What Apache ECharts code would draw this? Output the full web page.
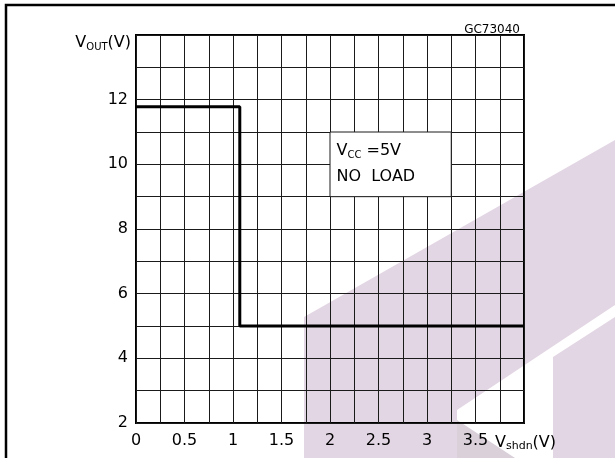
<!DOCTYPE html>
<html>
<head>
<meta charset="utf-8">
<script src="https://cdn.jsdelivr.net/npm/echarts@6/dist/echarts.min.js"></script>
<style>html,body{margin:0;padding:0;background:#fff;}#chart{width:615px;height:458px;}</style>
</head>
<body>
<div id="chart"></div>
<script>
// Data
var stepX = [0, 1.07, 4];          // V_shdn (V)
var stepY = [11.78, 5, 5];         // V_OUT (V)
var xTickLabels = ['0', '0.5', '1', '1.5', '2', '2.5', '3', '3.5'];
var yTickLabels = ['2', '4', '6', '8', '10', '12'];
var noteBoxX = [2, 3.25];
var noteBoxY = [9, 11];
var figCode = 'GC73040';

var FONT = 'DejaVu Sans';
var chart = echarts.init(document.getElementById('chart'), null, {renderer: 'canvas'});

var lineData = stepX.map(function (x, i) { return [x, stepY[i]]; });

function fmtX(v) {
  var s = String(Math.round(v * 100) / 100);
  return xTickLabels.indexOf(s) >= 0 ? s : '';
}
function fmtY(v) {
  var s = String(Math.round(v * 100) / 100);
  return yTickLabels.indexOf(s) >= 0 ? s : '';
}

var option = {
  backgroundColor: '#fff',
  animation: false,
  title: {
    text: figCode,
    right: 90,
    top: 19,
    textStyle: {fontFamily: FONT, fontSize: 12, fontWeight: 'normal', color: '#000'}
  },
  graphic: [
    {type: 'polygon', z: -10, silent: true,
     shape: {points: [[304,317],[615,140],[615,305],[457,410],[457,458],[304,458]]},
     style: {fill: '#e3d6e4'}},
    {type: 'polygon', z: -10, silent: true,
     shape: {points: [[457,420],[515,458],[457,458]]},
     style: {fill: '#d9d0da'}},
    {type: 'polygon', z: -10, silent: true,
     shape: {points: [[553,357],[615,317],[615,458],[553,458]]},
     style: {fill: '#e3d6e4'}},
    {type: 'rect', z: 100, silent: true,
     shape: {x: 6, y: 5, width: 800, height: 800},
     style: {fill: 'none', stroke: '#000', lineWidth: 2.5}}
  ],
  grid: {
    left: 136, top: 35, width: 388, height: 388,
    show: true, borderColor: '#000', borderWidth: 2, backgroundColor: 'transparent'
  },
  xAxis: {
    type: 'value', min: 0, max: 4, interval: 0.25,
    name: '{v|V}{s|shdn}{v|(V)}',
    nameLocation: 'end', nameGap: -29,
    nameTextStyle: {
      align: 'left', verticalAlign: 'top', padding: [10, 0, 0, 0],
      rich: {
        v: {fontFamily: FONT, fontSize: 16, color: '#000'},
        s: {fontFamily: FONT, fontSize: 11, color: '#000', padding: [8, 0, 0, 0]}
      }
    },
    axisLine: {show: false},
    axisTick: {show: false},
    splitLine: {show: true, lineStyle: {color: '#1a1a1a', width: 1}},
    axisLabel: {
      formatter: fmtX, margin: 10, color: '#000',
      fontFamily: FONT, fontSize: 16, showMaxLabel: true, showMinLabel: true
    }
  },
  yAxis: {
    type: 'value', min: 2, max: 14, interval: 1,
    name: '{v|V}{s|OUT}{v|(V)}',
    nameLocation: 'end', nameGap: -8,
    nameTextStyle: {
      align: 'right', verticalAlign: 'middle', padding: [0, 5, 0, 0],
      rich: {
        v: {fontFamily: FONT, fontSize: 16, color: '#000'},
        s: {fontFamily: FONT, fontSize: 10, color: '#000', padding: [8, 0, 0, 0]}
      }
    },
    axisLine: {show: false},
    axisTick: {show: false},
    splitLine: {show: true, lineStyle: {color: '#1a1a1a', width: 1}},
    axisLabel: {
      formatter: fmtY, margin: 8, color: '#000',
      fontFamily: FONT, fontSize: 16
    }
  },
  series: [{
    type: 'line',
    step: 'end',
    data: lineData,
    showSymbol: false,
    symbol: 'none',
    lineStyle: {color: '#000', width: 3},
    z: 5,
    markArea: {
      silent: true,
      itemStyle: {color: '#fff', borderColor: '#1a1a1a', borderWidth: 1},
      label: {
        show: true,
        position: [7, 6],
        align: 'left',
        verticalAlign: 'top',
        formatter: '{v|V}{s|CC}{v| =5V}\n{v|NO  LOAD}',
        rich: {
          v: {fontFamily: FONT, fontSize: 16, color: '#000', lineHeight: 26},
          s: {fontFamily: FONT, fontSize: 10, color: '#000', lineHeight: 26, padding: [9, 0, 0, 0]}
        }
      },
      data: [[{coord: [noteBoxX[0], noteBoxY[1]]}, {coord: [noteBoxX[1], noteBoxY[0]]}]]
    }
  }]
};
chart.setOption(option);
</script>
</body>
</html>
